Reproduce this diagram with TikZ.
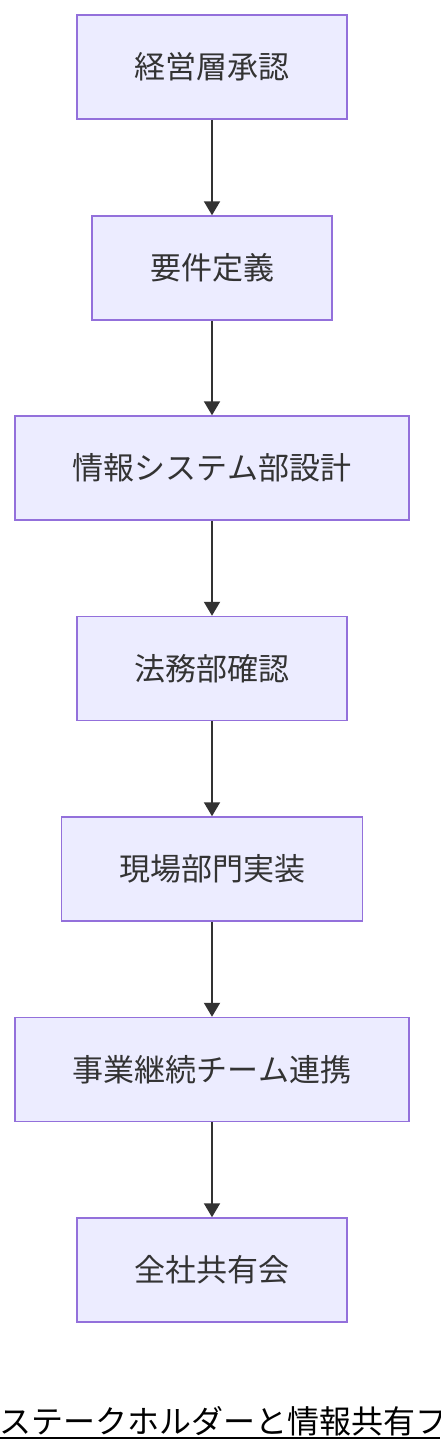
\documentclass[tikz,border=0pt]{standalone}
\usepackage{fontspec}
\newfontfamily\jp{Noto Sans CJK JP}
\usetikzlibrary{arrows.meta}
\definecolor{nodefill}{HTML}{ECECFF}
\definecolor{nodeline}{HTML}{9370DB}
\definecolor{ink}{HTML}{333333}
\tikzset{
  box/.style={draw=nodeline, fill=nodefill, line width=1.5pt, minimum height=104pt,
    inner sep=0pt, text=ink, font=\jp\fontsize{31}{36}\selectfont},
  flow/.style={draw=ink, line width=2pt, -{Triangle[length=14pt,width=16pt]}},
}
\begin{document}
\begin{tikzpicture}[x=1pt,y=-1pt]
\useasboundingbox (0,0) rectangle (440,1452);
\fill[white] (0,0) rectangle (440,1452);
\node[box, minimum width=270pt] (a) at (212,67) {経営層承認};
\node[box, minimum width=240pt] (b) at (212,268) {要件定義};
\node[box, minimum width=394pt] (c) at (212,468) {情報システム部設計};
\node[box, minimum width=270pt] (d) at (212,668.5) {法務部確認};
\node[box, minimum width=301pt] (e) at (212,869) {現場部門実装};
\node[box, minimum width=394pt] (f) at (212,1069.5) {事業継続チーム連携};
\node[box, minimum width=270pt] (g) at (212,1270) {全社共有会};
\draw[flow] (a) -- (b);
\draw[flow] (b) -- (c);
\draw[flow] (c) -- (d);
\draw[flow] (d) -- (e);
\draw[flow] (e) -- (f);
\draw[flow] (f) -- (g);
\node[anchor=base west, inner sep=0pt, font=\jp\fontsize{32}{36}\selectfont, text=black] (title) at (-0.5,1433) {ステークホルダーと情報共有フ};
\draw[black, line width=2pt] (0,1437.5) -- (440,1437.5);
\end{tikzpicture}
\end{document}
